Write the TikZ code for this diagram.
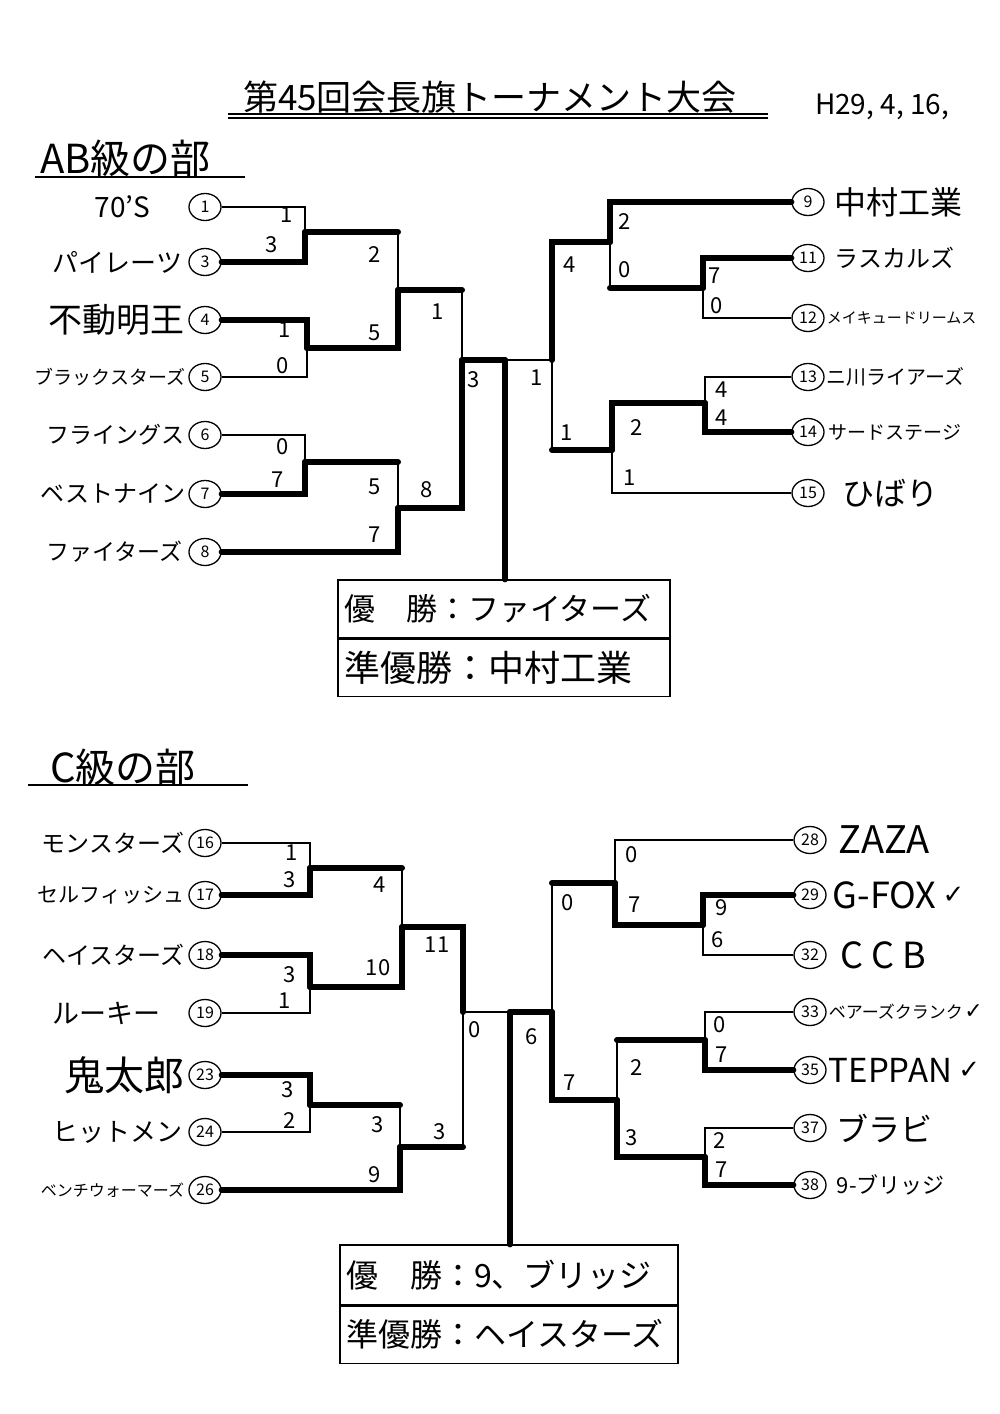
\documentclass[tikz,border=0pt]{standalone}
\usepackage{fontspec}
\setmainfont{Noto Sans CJK JP}
\newfontfamily\symfont{DejaVu Sans}
\usetikzlibrary{positioning,shapes.geometric}

\newcommand{\tsize}[1]{\fontsize{#1}{#1}\selectfont}

\tikzset{
  win/.style={line width=6pt, line cap=round},
  lose/.style={line width=1.2pt},
  seed/.style={ellipse, draw, line width=1.3pt, minimum width=32pt, minimum height=27pt, inner sep=0pt, font=\tsize{16}},
  team/.style={inner sep=0pt, font=\tsize{24}},
  score/.style={inner sep=0pt, font=\tsize{22}},
  prize/.style={draw, line width=1.2pt, inner xsep=6pt, inner ysep=0pt, align=left},
}

\begin{document}
\begin{tikzpicture}[x=1pt, y=-1pt]

\useasboundingbox (0,0) rectangle (1000,1414);

% title
\node[font=\tsize{35}] (title) at (490,97) {第45回会長旗トーナメント大会};
\draw[lose] (228,114) -- (768,114);
\draw[lose] (228,118) -- (768,118);
\node[font=\tsize{28}] (date) at (882,107) {H29, 4, 16,};

% AB class
\node[font=\tsize{40}, anchor=west, inner sep=0pt] (secab) at (40,158) {AB級の部};
\draw[lose] (35,177) -- (245,177);

\node[seed] (t1) at (205,207) {1};
\node[seed] (t3) at (205,262) {3};
\node[seed] (t4) at (205,320) {4};
\node[seed] (t5) at (205,377) {5};
\node[seed] (t6) at (205,435) {6};
\node[seed] (t7) at (205,494) {7};
\node[seed] (t8) at (205,552) {8};
\node[team, font=\tsize{28}, left=38pt of t1] (n1) {70'S};
\node[team, font=\tsize{26}, left=6pt of t3] (n3) {パイレーツ};
\node[team, font=\tsize{34}, left=4pt of t4] (n4) {不動明王};
\node[team, font=\tsize{19}, left=3pt of t5] (n5) {ブラックスターズ};
\node[team, font=\tsize{23}, left=4pt of t6] (n6) {フライングス};
\node[team, font=\tsize{24}, left=3pt of t7] (n7) {ベストナイン};
\node[team, font=\tsize{23}, left=6pt of t8] (n8) {ファイターズ};

\node[seed] (t9) at (808,202) {9};
\node[seed] (t11) at (808,258) {11};
\node[seed] (t12) at (808,318) {12};
\node[seed] (t13) at (808,377) {13};
\node[seed] (t14) at (808,432) {14};
\node[seed] (t15) at (808,493) {15};
\node[team, font=\tsize{32}, right=10pt of t9] (n9) {中村工業};
\node[team, font=\tsize{24}, right=10pt of t11] (n11) {ラスカルズ};
\node[team, font=\tsize{15}, right=2pt of t12] (n12) {メイキュードリームス};
\node[team, font=\tsize{20}, right=2pt of t13] (n13) {ニ川ライアーズ};
\node[team, font=\tsize{19}, right=4pt of t14] (n14) {サードステージ};
\node[team, font=\tsize{32}, right=18pt of t15] (n15) {ひばり};

\coordinate (a1) at (305,232);
\coordinate (a2) at (307,348);
\coordinate (a3) at (305,462);
\coordinate (a4) at (398,290);
\coordinate (a5) at (398,508);
\coordinate (a6) at (462,360);
\coordinate (c1) at (505,360);
\coordinate (b1) at (703,288);
\coordinate (b2) at (705,403);
\coordinate (b3) at (610,242);
\coordinate (b4) at (612,450);
\coordinate (b5) at (552,360);

\draw[lose] (t1.east) -| (a1);
\draw[win] (t3.east) -| (a1);
\draw[win] (t4.east) -| (a2);
\draw[lose] (t5.east) -| (a2);
\draw[lose] (t6.east) -| (a3);
\draw[win] (t7.east) -| (a3);
\draw[win] (a1) -- (a1 -| a4);
\draw[lose] (a1 -| a4) -- (a4);
\draw[win] (a2) -| (a4);
\draw[win] (a3) -- (a3 -| a5);
\draw[lose] (a3 -| a5) -- (a5);
\draw[win] (t8.east) -| (a5);
\draw[win] (a4) -- (a4 -| a6);
\draw[lose] (a4 -| a6) -- (a6);
\draw[win] (a5) -| (a6);

\draw[win] (t11.west) -| (b1);
\draw[lose] (t12.west) -| (b1);
\draw[lose] (t13.west) -| (b2);
\draw[win] (t14.west) -| (b2);
\draw[win] (t9.west) -| (b3);
\draw[win] (b1) -- (b1 -| b3);
\draw[lose] (b1 -| b3) -- (b3);
\draw[win] (b2) -| (b4);
\draw[lose] (t15.west) -| (b4);
\draw[win] (b3) -| (b5);
\draw[win] (b4) -- (b4 -| b5);
\draw[lose] (b4 -| b5) -- (b5);

\draw[win] (a6) -- (c1);
\draw[lose] (b5) -- (c1);

\node[prize, font=\tsize{31}, text width=320pt, minimum height=58pt] (w1) at (504,609) {優　勝：ファイターズ};
\node[prize, font=\tsize{36}, text width=320pt, minimum height=57pt, below=0pt of w1] (r1) {準優勝：中村工業};
\draw[win] (c1) -- (w1.north -| c1);

\foreach \v/\x/\y [count=\i] in {1/287/215, 3/272/245, 1/285/330, 0/283/366, 0/283/447, 7/278/480,
  2/375/255, 5/375/333, 5/375/487, 7/375/535, 1/438/312, 8/427/490, 3/474/380,
  1/537/378, 4/570/265, 1/567/433, 2/625/222, 0/625/270, 7/715/276, 0/717/306,
  2/637/428, 1/630/478, 4/722/390, 4/722/418}
  \node[score] (sab\i) at (\x,\y) {\v};

% C class
\node[font=\tsize{40}, anchor=west, inner sep=0pt] (secc) at (50,767) {C級の部};
\draw[lose] (28,785) -- (248,785);

\node[seed] (t16) at (205,843) {16};
\node[seed] (t17) at (205,895) {17};
\node[seed] (t18) at (205,955) {18};
\node[seed] (t19) at (205,1013) {19};
\node[seed] (t23) at (205,1075) {23};
\node[seed] (t24) at (205,1132) {24};
\node[seed] (t26) at (205,1190) {26};
\node[team, font=\tsize{24}, left=4pt of t16] (n16) {モンスターズ};
\node[team, font=\tsize{21}, left=4pt of t17] (n17) {セルフィッシュ};
\node[team, font=\tsize{24}, left=4pt of t18] (n18) {ヘイスターズ};
\node[team, font=\tsize{27}, left=28pt of t19] (n19) {ルーキー};
\node[team, font=\tsize{40}, left=4pt of t23] (n23) {鬼太郎};
\node[team, font=\tsize{26}, left=6pt of t24] (n24) {ヒットメン};
\node[team, font=\tsize{16}, left=4pt of t26] (n26) {ベンチウォーマーズ};

\node[seed] (t28) at (810,840) {28};
\node[seed] (t29) at (810,895) {29};
\node[seed] (t32) at (810,955) {32};
\node[seed] (t33) at (810,1012) {33};
\node[seed] (t35) at (810,1070) {35};
\node[seed] (t37) at (810,1128) {37};
\node[seed] (t38) at (810,1185) {38};
\node[team, font=\tsize{38}, right=12pt of t28] (n28) {ZAZA};
\node[team, font=\tsize{36}, right=6pt of t29] (n29) {G-FOX};
\node[team, font=\tsize{36}, right=14pt of t32] (n32) {C C B};
\node[team, font=\tsize{17}, right=2pt of t33] (n33) {ベアーズクランク};
\node[team, font=\tsize{33}, right=2pt of t35] (n35) {TEPPAN};
\node[team, font=\tsize{32}, right=10pt of t37] (n37) {ブラビ};
\node[team, font=\tsize{22}, right=10pt of t38] (n38) {9-ブリッジ};
\node[team, font=\symfont\tsize{26}, right=6pt of n29] (k29) {✓};
\node[team, font=\symfont\tsize{22}, right=1pt of n33] (k33) {✓};
\node[team, font=\symfont\tsize{26}, right=6pt of n35] (k35) {✓};

\coordinate (d1) at (310,868);
\coordinate (d2) at (310,987);
\coordinate (d3) at (310,1105);
\coordinate (d4) at (402,927);
\coordinate (d5) at (400,1147);
\coordinate (d6) at (463,1012);
\coordinate (c2) at (510,1012);
\coordinate (e1) at (703,925);
\coordinate (e2) at (705,1040);
\coordinate (e3) at (705,1157);
\coordinate (e4) at (615,883);
\coordinate (e5) at (617,1100);
\coordinate (e6) at (552,1012);

\draw[lose] (t16.east) -| (d1);
\draw[win] (t17.east) -| (d1);
\draw[win] (t18.east) -| (d2);
\draw[lose] (t19.east) -| (d2);
\draw[win] (t23.east) -| (d3);
\draw[lose] (t24.east) -| (d3);
\draw[win] (d1) -- (d1 -| d4);
\draw[lose] (d1 -| d4) -- (d4);
\draw[win] (d2) -| (d4);
\draw[win] (d3) -- (d3 -| d5);
\draw[lose] (d3 -| d5) -- (d5);
\draw[win] (t26.east) -| (d5);
\draw[win] (d4) -| (d6);
\draw[win] (d5) -- (d5 -| d6);
\draw[lose] (d5 -| d6) -- (d6);

\draw[lose] (t28.west) -| (e4);
\draw[win] (t29.west) -| (e1);
\draw[lose] (t32.west) -| (e1);
\draw[lose] (t33.west) -| (e2);
\draw[win] (t35.west) -| (e2);
\draw[lose] (t37.west) -| (e3);
\draw[win] (t38.west) -| (e3);
\draw[win] (e1) -| (e4);
\draw[win] (e2) -- (e2 -| e5);
\draw[lose] (e2 -| e5) -- (e5);
\draw[win] (e3) -| (e5);
\draw[win] (e4) -- (e4 -| e6);
\draw[lose] (e4 -| e6) -- (e6);
\draw[win] (e5) -| (e6);

\draw[lose] (d6) -- (c2);
\draw[win] (e6) -- (c2);

\node[prize, font=\tsize{32}, text width=326pt, minimum height=60pt] (w2) at (509,1275) {優　勝：9、ブリッジ};
\node[prize, font=\tsize{32}, text width=326pt, minimum height=57pt, below=0pt of w2] (r2) {準優勝：ヘイスターズ};
\draw[win] (c2) -- (w2.north -| c2);

\foreach \v/\x/\y [count=\i] in {1/292/853, 3/290/880, 3/290/975, 1/285/1001, 3/288/1090, 2/290/1120,
  4/380/885, 10/378/968, 3/378/1125, 9/375/1175, 11/437/945, 3/440/1132, 0/475/1030,
  6/532/1037, 0/568/903, 7/570/1083, 0/632/855, 7/635/905, 9/722/908, 6/718/940,
  2/637/1067, 3/632/1138, 0/720/1025, 7/722/1055, 2/720/1140, 7/722/1170}
  \node[score] (sc\i) at (\x,\y) {\v};

\end{tikzpicture}
\end{document}
